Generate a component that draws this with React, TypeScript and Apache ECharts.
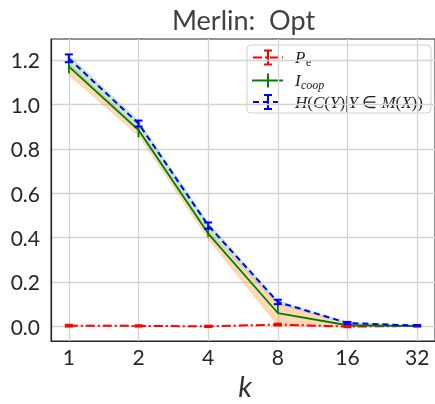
import React, { useEffect, useRef } from "react";
import * as echarts from "echarts";

// ---- data ----
const kValues = [1, 2, 4, 8, 16, 32];
const yTicks = [0, 0.2, 0.4, 0.6, 0.8, 1.0, 1.2];

const peMean = [0.003, 0.002, 0.0, 0.008, -0.001, 0.002];
const peLo = [-0.001, -0.001, -0.003, 0.004, -0.004, 0.0];
const peHi = [0.007, 0.005, 0.003, 0.012, 0.002, 0.004];

const icoopMean = [1.17, 0.884, 0.418, 0.06, 0.005, 0.001];
const icoopLo = [1.14, 0.852, 0.403, 0.06, 0.004, 0.0];
const icoopHi = [1.197, 0.907, 0.448, 0.105, 0.008, 0.002];
const icoopBandLo = [1.13, 0.858, 0.39, 0.0, 0.0, 0.0];
const icoopBandHi = [1.185, 0.895, 0.43, 0.105, 0.012, 0.003];

const hMean = [1.207, 0.914, 0.455, 0.11, 0.015, 0.003];
const hLo = [1.19, 0.9, 0.44, 0.1, 0.01, 0.0];
const hHi = [1.225, 0.927, 0.468, 0.12, 0.02, 0.006];
const hBandLo = [1.175, 0.885, 0.425, 0.1, 0.01, 0.0];
const hBandHi = [1.225, 0.93, 0.47, 0.118, 0.02, 0.006];

const xPos = kValues.map((k) => Math.log2(k));

function errorBars(lo: number[], hi: number[], color: string, cap: number, width: number) {
  return {
    type: "custom",
    z: 5,
    data: xPos.map((x, i) => [x, lo[i], hi[i]]),
    encode: { x: 0, y: [1, 2] },
    renderItem: (params: any, api: any) => {
      const x = api.value(0);
      const p1 = api.coord([x, api.value(1)]);
      const p2 = api.coord([x, api.value(2)]);
      const children: any[] = [
        { type: "line", shape: { x1: p1[0], y1: p1[1], x2: p2[0], y2: p2[1] }, style: { stroke: color, lineWidth: width } },
      ];
      if (cap > 0) {
        children.push({ type: "line", shape: { x1: p1[0] - cap, y1: p1[1], x2: p1[0] + cap, y2: p1[1] }, style: { stroke: color, lineWidth: width } });
        children.push({ type: "line", shape: { x1: p2[0] - cap, y1: p2[1], x2: p2[0] + cap, y2: p2[1] }, style: { stroke: color, lineWidth: width } });
      }
      return { type: "group", children };
    },
  };
}

function band(lo: number[], hi: number[], fill: string) {
  return {
    type: "custom",
    z: 1,
    data: xPos.map((x, i) => [x, lo[i], hi[i]]),
    encode: { x: 0, y: [1, 2] },
    renderItem: (params: any, api: any) => {
      if (params.dataIndex !== 0) return null;
      const pts: number[][] = [];
      xPos.forEach((x, i) => pts.push(api.coord([x, lo[i]])));
      for (let i = xPos.length - 1; i >= 0; i--) pts.push(api.coord([xPos[i], hi[i]]));
      return { type: "polygon", shape: { points: pts }, style: { fill } };
    },
  };
}

function lineSeries(vals: number[], color: string, type: any, width: number, z: number) {
  return {
    type: "line",
    z,
    data: xPos.map((x, i) => [x, vals[i]]),
    symbol: "none",
    lineStyle: { color, width, type },
  };
}

export default function App() {
  const ref = useRef<HTMLDivElement>(null);
  useEffect(() => {
    if (!ref.current) return;
    const chart = echarts.init(ref.current, undefined, { renderer: "svg" });
    const fs = 17;
    const serifItalic = { fontFamily: "Liberation Serif", fontStyle: "italic", fontSize: fs, fill: "#222" };
    const serifNormal = { fontFamily: "Liberation Serif", fontStyle: "normal", fontSize: fs, fill: "#222" };
    const rowY = [57.5, 80.5, 102];
    const hx = 253, hx2 = 283, hc = 268;
    chart.setOption({
      animation: false,
      grid: { left: 51, top: 39, width: 387, height: 302, show: true, borderColor: "#262626", borderWidth: 1, backgroundColor: "transparent" },
      xAxis: {
        type: "value",
        min: -0.256,
        max: 5.256,
        axisLine: { show: true, onZero: false, lineStyle: { color: "#262626", width: 1.2 } },
        axisTick: { show: false, customValues: xPos },
        axisLabel: {
          customValues: xPos,
          formatter: (v: number) => String(Math.round(Math.pow(2, v))),
          fontFamily: "Lato",
          fontSize: 21,
          color: "#262626",
          margin: 5,
        },
        splitLine: { show: true, lineStyle: { color: "#d4d4d4", width: 1.3 } },
      },
      yAxis: {
        type: "value",
        min: -0.066,
        max: 1.2945,
        axisLine: { show: true, onZero: false, lineStyle: { color: "#262626", width: 1.2 } },
        axisTick: { show: false, customValues: yTicks },
        axisLabel: {
          customValues: yTicks,
          formatter: (v: number) => v.toFixed(1),
          fontFamily: "Lato",
          fontSize: 21,
          color: "#262626",
          margin: 11,
        },
        splitLine: { show: true, lineStyle: { color: "#d4d4d4", width: 1.3 } },
      },
      graphic: [
        { type: "text", x: 243.5, y: 19, style: { text: "Merlin:  Opt", fontFamily: "Lato", fontSize: 27, fill: "#404040", align: "center", verticalAlign: "middle" } },
        { type: "text", x: 245, y: 385, style: { text: "k", fontFamily: "Lato", fontStyle: "italic", fontSize: 29, fill: "#333", align: "center", verticalAlign: "middle" } },
        {
          type: "group",
          z: 100,
          children: [
            { type: "rect", shape: { x: 247, y: 45, width: 184, height: 68, r: 4 }, style: { fill: "rgba(255,255,255,0.85)", stroke: "#d0d0d0", lineWidth: 1 } },
            // Pe
            { type: "line", shape: { x1: hx, y1: rowY[0], x2: hx2, y2: rowY[0] }, style: { stroke: "#ff0000", lineWidth: 2, lineDash: [9, 3, 2, 3] } },
            { type: "line", shape: { x1: hc, y1: rowY[0] - 7, x2: hc, y2: rowY[0] + 7 }, style: { stroke: "#ff0000", lineWidth: 2 } },
            { type: "line", shape: { x1: hc - 4, y1: rowY[0] - 7, x2: hc + 4, y2: rowY[0] - 7 }, style: { stroke: "#ff0000", lineWidth: 2 } },
            { type: "line", shape: { x1: hc - 4, y1: rowY[0] + 7, x2: hc + 4, y2: rowY[0] + 7 }, style: { stroke: "#ff0000", lineWidth: 2 } },
            { type: "text", x: 295, y: rowY[0], style: { ...serifItalic, text: "P", verticalAlign: "middle" } },
            { type: "text", x: 306, y: rowY[0] + 4, style: { ...serifNormal, fontSize: 12, text: "e", verticalAlign: "middle" } },
            // Icoop
            { type: "line", shape: { x1: hx - 1, y1: rowY[1], x2: hx2, y2: rowY[1] }, style: { stroke: "#008000", lineWidth: 2 } },
            { type: "line", shape: { x1: hc, y1: rowY[1] - 7, x2: hc, y2: rowY[1] + 7 }, style: { stroke: "#008000", lineWidth: 2 } },
            { type: "text", x: 295, y: rowY[1], style: { ...serifItalic, text: "I", verticalAlign: "middle" } },
            { type: "text", x: 301, y: rowY[1] + 4, style: { ...serifItalic, fontSize: 12, text: "coop", verticalAlign: "middle" } },
            // H
            { type: "line", shape: { x1: hx, y1: rowY[2], x2: hx2, y2: rowY[2] }, style: { stroke: "#0000ff", lineWidth: 2, lineDash: [6, 4] } },
            { type: "line", shape: { x1: hc, y1: rowY[2] - 7, x2: hc, y2: rowY[2] + 7 }, style: { stroke: "#0000ff", lineWidth: 2 } },
            { type: "line", shape: { x1: hc - 4, y1: rowY[2] - 7, x2: hc + 4, y2: rowY[2] - 7 }, style: { stroke: "#0000ff", lineWidth: 2 } },
            { type: "line", shape: { x1: hc - 4, y1: rowY[2] + 7, x2: hc + 4, y2: rowY[2] + 7 }, style: { stroke: "#0000ff", lineWidth: 2 } },
            {
              type: "text",
              x: 295,
              y: rowY[2],
              style: {
                text: "{i|H}{n|(}{i|C}{n|(}{i|Y}{n|)|}{i|Y}{n| ∈ }{i|M}{n|(}{i|X}{n|))}",
                verticalAlign: "middle",
                rich: {
                  i: { fontFamily: "Liberation Serif", fontStyle: "italic", fontSize: fs, fill: "#222" },
                  n: { fontFamily: "Liberation Serif", fontStyle: "normal", fontSize: fs, fill: "#222" },
                },
              },
            },
          ],
        },
      ],
      series: [
        band(icoopBandLo, icoopBandHi, "rgba(255,127,14,0.3)"),
        band(hBandLo, hBandHi, "rgba(44,160,44,0.25)"),
        lineSeries(peMean, "#ff0000", [9, 3, 2, 3], 2, 3),
        errorBars(peLo, peHi, "#ff0000", 4, 2),
        lineSeries(icoopMean, "#008000", "solid", 1.8, 4),
        errorBars(icoopLo, icoopHi, "#008000", 0, 1.8),
        lineSeries(hMean, "#0000ff", [6, 4], 2, 6),
        errorBars(hLo, hHi, "#0000ff", 4, 2),
      ],
    });
    return () => chart.dispose();
  }, []);
  return <div ref={ref} style={{ position: "fixed", left: 0, top: 0, width: 435, height: 404 }} />;
}
